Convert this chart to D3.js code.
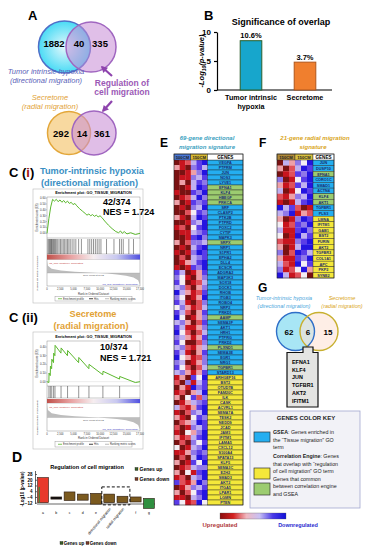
<!DOCTYPE html>
<html><head><meta charset="utf-8">
<script src="https://cdn.jsdelivr.net/npm/d3@7"></script>
<style>body{margin:0;background:#fff}svg{display:block;font-family:"Liberation Sans",Arial,sans-serif}</style>
</head><body><svg id="c" width="375" height="550"></svg>
<script>
// ---------------- DATA ----------------
const vennTopCounts = [1882, 40, 335];
const vennBottomCounts = [292, 14, 361];
const overlapCategories = ["Tumor intrinsic hypoxia", "Secretome"];
const overlapValues = [8.5, 4.8];
const overlapPercents = ["10.6%", "3.7%"];
const overlapTicks = [0, 5, 10];

const esHypoxia = [[0,0],[0.02,0.25],[0.04,0.45],[0.06,0.58],[0.08,0.55],[0.1,0.58],[0.12,0.54],[0.14,0.57],[0.16,0.53],[0.18,0.56],[0.2,0.52],[0.22,0.55],[0.24,0.51],[0.26,0.53],[0.28,0.49],[0.3,0.51],[0.32,0.47],[0.35,0.42],[0.38,0.38],[0.41,0.34],[0.43,0.31],[0.45,0.33],[0.47,0.3],[0.49,0.32],[0.51,0.29],[0.53,0.31],[0.55,0.28],[0.57,0.3],[0.59,0.27],[0.62,0.21],[0.66,0.14],[0.7,0.08],[0.74,0.03],[0.77,0.01],[0.79,0.04],[0.81,0.0],[0.83,0.03],[0.86,-0.01],[0.9,0.01],[0.95,-0.02],[1,0]];
const hitsHypoxia = [0.01,0.02,0.03,0.035,0.045,0.05,0.06,0.07,0.08,0.09,0.1,0.115,0.13,0.145,0.16,0.175,0.19,0.205,0.22,0.235,0.25,0.27,0.29,0.31,0.34,0.37,0.44,0.46,0.48,0.5,0.52,0.54,0.56,0.58,0.64,0.72,0.78,0.8,0.82,0.88,0.93];
const esSecretome = [[0,0],[0.02,-0.01],[0.022,0.1],[0.035,0.07],[0.037,0.18],[0.05,0.15],[0.052,0.26],[0.07,0.22],[0.072,0.33],[0.085,0.3],[0.087,0.42],[0.15,0.33],[0.152,0.39],[0.22,0.3],[0.222,0.36],[0.34,0.22],[0.342,0.28],[0.45,0.15],[0.452,0.2],[0.6,0.08],[0.602,0.12],[0.78,0.03],[0.782,0.06],[0.95,-0.01],[1,0]];
const hitsSecretome = [0.021,0.036,0.051,0.071,0.086,0.151,0.221,0.341,0.451,0.601,0.781];
const rankMetric = [[0,1],[0.01,0.6],[0.05,0.35],[0.15,0.2],[0.3,0.1],[0.45,0.04],[0.55,0],[0.65,-0.05],[0.75,-0.12],[0.85,-0.22],[0.93,-0.38],[0.98,-0.6],[1,-1]];
const rankTickLabels = ["0","2,500","5,000","7,500","10,000","12,500","15,000","17,500"];

const dCategories = ["A","B","C","D","E","directional migration","radial migration","F","G"];
const dLow  = [-12, -7, -9, -8.5, -14, -12, -12, -11, -20];
const dHigh = [23, -4, 3, 0, 1, 0, -3, -4, -6];
const dKind = ["up","none","mix","mix","mix","mix","mix","mix","down"];
const dTicks = [28, 20, 12, 4, -4, -12];

const eSamples = ["500CM-1","500CM-2","500CM-3","150CM-1","150CM-2","150CM-3"];
const eGenes = ["VEGFA","PTPRM","JUN","NOS3","LYVE1","EFNA1","KLF4","HBEGF","PRKCA","SRF","CLASP2","PTK2B","PTPRD","FOXC2","CYTIP","MAPK3","SRPX","NRP1","S1PR1","EPHA2","DLL4","ECSCR","ADGRA2","MAP3K3","SOX18","DOCK1","RHOB","ITGB3","ROBO4","NRP2","PRKD1","AAMP","SEMA3F","AKT1","HRH1","PTPRG","PRKD2","PLXND1","SEMA3E","EGR1","NRG1","TGFBR1","STARD13","ARHGEF16","BST2","OTUD7B","FAM20C","ILK","CASK","ACVRL1","SEMA7A","TESK2","NEDD9","JCAD","JAM3","IFITM1","LAMA5","CXCL12","S100A4","SPATA13","KLF5","SEMA3C","EZH2","SMAD3","AKT2","ITGA5","LPAR1","LGMN","PTEN"];
const eGroups = "bbbbbggggbbbbbbbgbbbbbbbbbbbbbbgbbbbbgbbbgbyyyyyyyyyyyyyyyyyyyyyyyyyy";
const eLevels = ["012578","310675","001368","011657","030576","001587","100768","012586","301767","010658","002476","310587","001658","120478","011567","001786","302665","010578","101687","020567","013578","101768",
"750137","641036","740125","562036","853127","640138","751026","463125","752037","840136","563027","751136","842025","653137","740026","562135","751037","843126","650136","742025","563137",
"130748","206157","031867","120358","304726","013567","521378","102658","310476","023587","201657","104368","312578","020647","401568","113676","020587","301748","012566","304178","120568","721386","013657","302478","110568","741284"];

const fSamples = ["150CM-a1","150CM-a2","150CM-a3","150CM-b1","150CM-b2","150CM-b3"];
const fGenes = ["JUN","DUSP10","EFNA1","CORO1C","SMAD1","ACTN4","KLF4","AKT1","TGFBR1","PLS3","LMNA","IFITM1","GAB1","BST2","FURIN","AKT2","TGFBR3","COL1A1","APC","PKP2","SYNE2"];
const fGroups = "bbgbbbggbbyyyyyyyyyyy";
const fLevels = ["053648","302587","012768","601478","312758","501487","213658","101578","857201","568132","301687","412768","511786","401857","211678","301588","602875","311768","521847","612483","851240"];

const commonGenes = ["EFNA1","KLF4","JUN","TGFBR1","AKT2","IFITM1"];
const gVennCounts = [62, 6, 15];

// ---------------- HELPERS ----------------
const svg = d3.select("#c");
svg.append("rect").attr("width",375).attr("height",550).attr("fill","#fff");
const defs = svg.append("defs");
function txt(g, x, y, s, o={}) {
  const t = g.append("text").attr("x",x).attr("y",y).text(s)
    .attr("font-size", o.size||8).attr("font-weight", o.bold?"bold":"normal")
    .attr("font-style", o.italic?"italic":"normal").attr("fill", o.color||"#000")
    .attr("text-anchor", o.anchor||"start");
  if (o.rotate) t.attr("transform", `rotate(${o.rotate},${x},${y})`);
  return t;
}
function grad(id, stops, vertical) {
  const lg = defs.append("linearGradient").attr("id", id);
  if (vertical) lg.attr("x1",0).attr("y1",0).attr("x2",0).attr("y2",1);
  stops.forEach((c,i)=> lg.append("stop").attr("offset", i/(stops.length-1)).attr("stop-color", c));
}
grad("heatbar", ["#8a0f0f","#d42020","#f0b8c0","#c8c0f4","#4a3ae8","#1010d8"]);
grad("gseabar", ["#c0504a","#e8a0a0","#f6eef0","#c8c8f0","#5050e0"]);
const rg = defs.append("radialGradient").attr("id","cyanfill");
rg.append("stop").attr("offset",0).attr("stop-color","#e4f8fc");
rg.append("stop").attr("offset",1).attr("stop-color","#49dbf5");

// ---------------- PANEL A ----------------
const A = svg.append("g");
txt(A, 28, 20, "A", {size:13, bold:true});
A.append("circle").attr("cx",64.5).attr("cy",47).attr("r",26).attr("fill","url(#cyanfill)").attr("stroke","#4f6fc8").attr("stroke-width",1.5);
A.append("circle").attr("cx",91).attr("cy",47).attr("r",25).attr("fill","#c68ad6").attr("fill-opacity",0.55).attr("stroke","#a066c0").attr("stroke-width",1.5);
[54,79,100].forEach((x,i)=>txt(A,x,47,vennTopCounts[i],{size:9.5,bold:true,anchor:"middle"}));
txt(A, 46, 74, "Tumor intrinsic hypoxia", {size:7.5, italic:true, color:"#5a62b8", anchor:"middle"});
txt(A, 46, 83, "(directional migration)", {size:7.5, italic:true, color:"#5a62b8", anchor:"middle"});
txt(A, 122, 86, "Regulation of", {size:8.5, bold:true, color:"#9b59b6", anchor:"middle"});
txt(A, 122, 95, "cell migration", {size:8.5, bold:true, color:"#9b59b6", anchor:"middle"});
txt(A, 50, 100, "Secretome", {size:7.5, italic:true, color:"#e2a236", anchor:"middle"});
txt(A, 50, 109, "(radial migration)", {size:7.5, italic:true, color:"#e2a236", anchor:"middle"});
function arrow(g, x1,y1,x2,y2,col){
  g.append("line").attr("x1",x1).attr("y1",y1).attr("x2",x2).attr("y2",y2).attr("stroke",col).attr("stroke-width",2.2);
  const ang = Math.atan2(y2-y1,x2-x1), L=5, W=3.5;
  const bx = x2 - L*Math.cos(ang), by = y2 - L*Math.sin(ang);
  const px = -Math.sin(ang)*W, py = Math.cos(ang)*W;
  g.append("path").attr("d",`M${x2+1.5*Math.cos(ang)},${y2+1.5*Math.sin(ang)}L${bx+px},${by+py}L${bx-px},${by-py}Z`).attr("fill",col);
}
arrow(A, 112, 76, 102, 67, "#8e44ad");
arrow(A, 112, 101, 103, 111, "#8e44ad");
A.append("circle").attr("cx",69).attr("cy",133).attr("r",21.5).attr("fill","#f8d9a0").attr("stroke","#e3a73a").attr("stroke-width",1.5);
A.append("circle").attr("cx",94).attr("cy",133).attr("r",22).attr("fill","#c98fd6").attr("fill-opacity",0.58).attr("stroke","#a066c0").attr("stroke-width",1.5);
[61,82,102].forEach((x,i)=>txt(A,x,137,vennBottomCounts[i],{size:9.5,bold:true,anchor:"middle"}));

// ---------------- PANEL B ----------------
const B = svg.append("g");
txt(B, 204, 20, "B", {size:13, bold:true});
txt(B, 281, 25, "Significance of overlap", {size:9, bold:true, anchor:"middle"});
const bY = d3.scaleLinear().domain([0,10]).range([90,32]);
const bX = d3.scaleBand().domain(overlapCategories).range([224,332]).paddingInner(0.6).paddingOuter(0.3);
const bAx = B.append("g").attr("transform","translate(217,0)").call(d3.axisLeft(bY).tickValues(overlapTicks).tickSize(3).tickSizeOuter(0));
bAx.selectAll("text").attr("font-size",8).attr("font-weight","bold").attr("font-family","Liberation Sans, Arial");
bAx.selectAll("path,line").attr("stroke","#000").attr("stroke-width",1.2);
B.append("line").attr("x1",217).attr("x2",332).attr("y1",bY(0)).attr("y2",bY(0)).attr("stroke","#000").attr("stroke-width",1.2);
const bColors = ["#17a6cc","#f07f2e"];
const bStroke = ["#2b5f2b","#b0561a"];
overlapCategories.forEach((c,i)=>{
  B.append("rect").attr("x",bX(c)).attr("width",bX.bandwidth()).attr("y",bY(overlapValues[i])).attr("height",bY(0)-bY(overlapValues[i]))
    .attr("fill",bColors[i]).attr("stroke",bStroke[i]).attr("stroke-width",1);
  txt(B, bX(c)+bX.bandwidth()/2, bY(overlapValues[i])-2.5, overlapPercents[i], {size:7.5, bold:true, anchor:"middle"});
});
txt(B, bX(overlapCategories[0])+bX.bandwidth()/2, 100, "Tumor intrinsic", {size:7.2, bold:true, anchor:"middle"});
txt(B, bX(overlapCategories[0])+bX.bandwidth()/2, 109, "hypoxia", {size:7.2, bold:true, anchor:"middle"});
txt(B, bX(overlapCategories[1])+bX.bandwidth()/2, 100, "Secretome", {size:7.2, bold:true, anchor:"middle"});
const bl = B.append("text").attr("transform","translate(204,61) rotate(-90)").attr("text-anchor","middle")
  .attr("font-size",7.5).attr("font-weight","bold").attr("font-style","italic");
bl.append("tspan").text("-Log");
bl.append("tspan").text("10").attr("font-size",5).attr("dy",2);
bl.append("tspan").text("(p-value)").attr("dy",-2);

// ---------------- PANEL C (GSEA) ----------------
function gsea(L, esPts, esDom, esTicks, hits, ratio) {
  const g = svg.append("g");
  g.append("rect").attr("x",L.x0).attr("y",L.y0).attr("width",L.x1-L.x0).attr("height",L.y1-L.y0).attr("fill","#fff").attr("stroke","#bbb").attr("stroke-width",0.6);
  txt(g, (L.px0+L.px1)/2, L.titleY, "Enrichment plot: GO_TISSUE_MIGRATION", {size:3.8, bold:true, anchor:"middle"});
  const x = d3.scaleLinear().domain([0,1]).range([L.px0,L.px1]);
  const y = d3.scaleLinear().domain(esDom).range([L.es[1],L.es[0]]);
  g.append("rect").attr("x",L.px0).attr("y",L.es[0]).attr("width",L.px1-L.px0).attr("height",L.m[1]-L.es[0]).attr("fill","none").attr("stroke","#777").attr("stroke-width",0.4);
  [L.es[1], L.hit[1], L.cb[1]].forEach(yy=> g.append("line").attr("x1",L.px0).attr("x2",L.px1).attr("y1",yy).attr("y2",yy).attr("stroke","#777").attr("stroke-width",0.4));
  g.append("line").attr("x1",L.px0).attr("x2",L.px1).attr("y1",y(0)).attr("y2",y(0)).attr("stroke","#ccc").attr("stroke-width",0.4);
  esTicks.forEach(t=>{
    g.append("line").attr("x1",L.px0-1.2).attr("x2",L.px0).attr("y1",y(t)).attr("y2",y(t)).attr("stroke","#555").attr("stroke-width",0.3);
    txt(g, L.px0-1.5, y(t)+1, d3.format(".2f")(t), {size:2.8, anchor:"end", color:"#333"});
  });
  txt(g, L.x0+5, (L.es[0]+L.es[1])/2, "Enrichment score (ES)", {size:2.8, anchor:"middle", rotate:-90, color:"#333"});
  g.append("path").datum(esPts).attr("d", d3.line().x(d=>x(d[0])).y(d=>y(d[1]))).attr("fill","none").attr("stroke","#5cb82e").attr("stroke-width",1);
  g.selectAll(null).data(hits).join("line").attr("x1",d=>x(d)).attr("x2",d=>x(d)).attr("y1",L.hit[0]).attr("y2",L.hit[1]).attr("stroke","#111").attr("stroke-width",0.45);
  g.append("rect").attr("x",L.px0).attr("y",L.cb[0]).attr("width",L.px1-L.px0).attr("height",L.cb[1]-L.cb[0]).attr("fill","url(#gseabar)");
  const my = d3.scaleLinear().domain([-1,1]).range([L.m[1]-1,L.m[0]+1]);
  g.append("path").datum(rankMetric).attr("d", d3.area().x(d=>x(d[0])).y0(my(0)).y1(d=>my(d[1]))).attr("fill","#bdbdbd");
  g.append("line").attr("x1",L.px0).attr("x2",L.px1).attr("y1",my(0)).attr("y2",my(0)).attr("stroke","#999").attr("stroke-width",0.3);
  txt(g, L.px0+2, L.m[0]+3.5, "'na_pos' (Positively Correlated)", {size:2.5, color:"#c03030"});
  txt(g, (L.px0+L.px1)/2, my(0)+3, "Zero cross at 8912", {size:2.5, color:"#555", anchor:"middle"});
  txt(g, L.px1-2, L.m[1]-1.5, "'na_neg' (Negatively Correlated)", {size:2.5, color:"#3030c0", anchor:"end"});
  txt(g, L.x0+5, (L.m[0]+L.m[1])/2, "Ranked list metric (PreRanked)", {size:2.5, anchor:"middle", rotate:-90, color:"#333"});
  rankTickLabels.forEach((s,i)=> txt(g, x(i/7), L.tickY, s, {size:2.6, anchor:"middle", color:"#333"}));
  txt(g, (L.px0+L.px1)/2, L.rankY, "Rank in Ordered Dataset", {size:2.8, anchor:"middle", color:"#333"});
  g.append("rect").attr("x",L.px0+8).attr("y",L.leg[0]).attr("width",L.px1-L.px0-16).attr("height",L.leg[1]-L.leg[0]).attr("fill","#fff").attr("stroke","#888").attr("stroke-width",0.4);
  const ly = (L.leg[0]+L.leg[1])/2;
  [["#5cb82e","Enrichment profile",L.px0+11],["#111","Hits",L.px0+42],["#aaa","Ranking metric scores",L.px0+58]].forEach(d=>{
    g.append("line").attr("x1",d[2]).attr("x2",d[2]+4).attr("y1",ly).attr("y2",ly).attr("stroke",d[0]).attr("stroke-width",0.8);
    txt(g, d[2]+5, ly+1, d[1], {size:2.6, color:"#333"});
  });
  txt(g, L.statX, L.statY[0], ratio[0], {size:9, bold:true});
  txt(g, L.statX, L.statY[1], ratio[1], {size:9, bold:true});
}
const C = svg.append("g");
const ci = C.append("text").attr("x",9).attr("y",177).attr("font-size",13).attr("font-weight","bold");
ci.append("tspan").text("C (");
ci.append("tspan").text("i").attr("fill","#a01010");
ci.append("tspan").text(")");
txt(C, 40, 174, "Tumor-intrinsic hypoxia", {size:9.2, bold:true, color:"#3a8fc4"});
txt(C, 41, 185.5, "(directional migration)", {size:9.2, bold:true, color:"#3a8fc4"});
gsea({x0:33,x1:143,y0:189,y1:303,px0:47,px1:140,titleY:194,es:[197,238],hit:[239,254],cb:[254.5,259.5],m:[260,286],tickY:290,rankY:294.5,leg:[296.5,301],statX:103,statY:[205,215]},
  esHypoxia, [-0.08,0.62], [0,0.1,0.2,0.3,0.4,0.5,0.6], hitsHypoxia, ["42/374","NES = 1.724"]);
txt(C, 9, 322, "C (ii)", {size:13, bold:true});
txt(C, 93, 317, "Secretome", {size:9.2, bold:true, color:"#e2a236", anchor:"middle"});
txt(C, 91, 329, "(radial migration)", {size:9.2, bold:true, color:"#e2a236", anchor:"middle"});
gsea({x0:33,x1:143,y0:332,y1:449,px0:47,px1:140,titleY:337.5,es:[341,386],hit:[386,398],cb:[399,403],m:[404,431],tickY:434.5,rankY:439,leg:[441.5,447],statX:100,statY:[350,361]},
  esSecretome, [-0.05,0.47], [0,0.1,0.2,0.3,0.4], hitsSecretome, ["10/374","NES = 1.721"]);

// ---------------- PANEL D ----------------
const D = svg.append("g");
txt(D, 12, 462, "D", {size:14, bold:true});
txt(D, 87, 469, "Regulation of cell migration", {size:5.6, bold:true, anchor:"middle"});
const dY = d3.scaleLinear().domain([-12,28]).range([502.7,474]);
const dX = d3.scaleBand().domain(dCategories).range([37,155]).paddingInner(0.18).paddingOuter(0.05);
const dAx = D.append("g").attr("transform","translate(37,0)").call(d3.axisLeft(dY).tickValues(dTicks).tickSize(1.5).tickSizeOuter(0));
dAx.selectAll("text").attr("font-size",4.5).attr("font-weight","bold").attr("font-family","Liberation Sans, Arial");
dAx.selectAll("path,line").attr("stroke","#000").attr("stroke-width",0.6);
dAx.select("path").attr("d","M-1.5,471V504");
D.append("line").attr("x1",37).attr("x2",155).attr("y1",504).attr("y2",504).attr("stroke","#000").attr("stroke-width",0.6);
D.append("text").attr("transform","translate(24,489) rotate(-90)").attr("text-anchor","middle").attr("font-size",4.5).attr("font-weight","bold").text("-Log10 (p-value)");
const dFill = {up:"#e8392b", none:"#111", mix:"#7b5a1f", down:"#2f8f3f"};
dCategories.forEach((c,i)=>{
  D.append("rect").attr("x",dX(c)).attr("width",dX.bandwidth()).attr("y",dY(dHigh[i])).attr("height",dY(dLow[i])-dY(dHigh[i]))
    .attr("fill",dFill[dKind[i]]).attr("stroke","#2a1a10").attr("stroke-width",0.6);
  if (dKind[i]==="up") D.append("rect").attr("x",dX(c)+1).attr("width",1.2).attr("y",dY(10)).attr("height",dY(dLow[i])-dY(10)).attr("fill","#2f8f3f");
  if (c.length===1) txt(D, dX(c)+dX.bandwidth()/2, 514, c.toLowerCase(), {size:3.5, anchor:"middle"});
  else txt(D, dX(c)+dX.bandwidth()/2+2, 509, c, {size:3.8, anchor:"end", rotate:-50});
});
D.append("rect").attr("x",dX(dCategories[5])-2).attr("y",dY(10)).attr("width",dX(dCategories[6])+dX.bandwidth()+2-(dX(dCategories[5])-2)).attr("height",dY(-15)-dY(10))
  .attr("fill","none").attr("stroke","#111").attr("stroke-width",1).attr("stroke-dasharray","3,2");
[["#3a5f2a","Genes up",471],["#7a3a2a","Genes down",481]].forEach(d=>{
  D.append("rect").attr("x",135).attr("y",d[2]-3.5).attr("width",3).attr("height",3).attr("fill",d[0]).attr("stroke","#000").attr("stroke-width",0.3);
  txt(D, 139.5, d[2], d[1], {size:5, bold:true});
});
[["#3a5f2a","Genes up",60],["#7a3a2a","Genes down",86]].forEach(d=>{
  D.append("rect").attr("x",d[2]).attr("y",541.5).attr("width",3).attr("height",3).attr("fill",d[0]).attr("stroke","#000").attr("stroke-width",0.3);
  txt(D, d[2]+3.8, 545, d[1], {size:4.5, bold:true});
});

// ---------------- HEATMAPS E & F ----------------
const heat = d3.scaleLinear().domain([0,1,2,3,4,5,6,7,8])
  .range(["#7a1212","#c8141e","#e0505a","#eea0a8","#f4eef4","#c0b0f0","#9078e8","#5a3ce8","#2414e0"]);
const groupFill = {b:"#24aef0", g:"#9ccc70", y:"#f4e83a"};
function heatmap(g, samples, genes, groups, levels, x0, x1, gx1, y0, y1, hdr) {
  const x = d3.scaleBand().domain(samples).range([x0,x1]);
  const y = d3.scaleBand().domain(genes).range([y0,y1]);
  const cells = [];
  levels.forEach((row,i)=> row.split("").forEach((v,j)=> cells.push({g:genes[i], s:samples[j], v:+v})));
  g.selectAll(null).data(cells).join("rect").attr("x",d=>x(d.s)).attr("y",d=>y(d.g)).attr("width",x.bandwidth()+0.2).attr("height",y.bandwidth()+0.2).attr("fill",d=>heat(d.v));
  g.selectAll(null).data(genes).join("rect").attr("x",x1).attr("y",d=>y(d)).attr("width",gx1-x1).attr("height",y.bandwidth())
    .attr("fill",(d,i)=>groupFill[groups[i]]).attr("stroke","#222").attr("stroke-width",0.4);
  g.selectAll(null).data(genes).join("text").attr("x",(x1+gx1)/2).attr("y",d=>y(d)+y.bandwidth()*0.78).attr("text-anchor","middle")
    .attr("font-size",3.8).attr("font-weight","bold").attr("fill","#1a2a6e").text(d=>d);
  const hy0 = y0-6;
  g.append("rect").attr("x",x0).attr("y",hy0).attr("width",(x1-x0)/2).attr("height",6).attr("fill",hdr[0][1]).attr("stroke","#222").attr("stroke-width",0.4);
  g.append("rect").attr("x",(x0+x1)/2).attr("y",hy0).attr("width",(x1-x0)/2).attr("height",6).attr("fill",hdr[1][1]).attr("stroke","#222").attr("stroke-width",0.4);
  g.append("rect").attr("x",x1).attr("y",hy0).attr("width",gx1-x1).attr("height",6).attr("fill","#fff").attr("stroke","#222").attr("stroke-width",0.4);
  txt(g, x0+(x1-x0)/4, hy0+4.5, hdr[0][0], {size:4.2, bold:true, anchor:"middle", color:"#222"});
  txt(g, x0+3*(x1-x0)/4, hy0+4.5, hdr[1][0], {size:4.2, bold:true, anchor:"middle", color:"#222"});
  txt(g, (x1+gx1)/2, hy0+4.6, "GENES", {size:4.6, bold:true, anchor:"middle"});
  g.append("rect").attr("x",x0).attr("y",hy0).attr("width",gx1-x0).attr("height",y1-hy0).attr("fill","none").attr("stroke","#222").attr("stroke-width",0.6);
}
const E = svg.append("g");
txt(E, 160, 147, "E", {size:12, bold:true});
txt(E, 207, 140, "69-gene directional", {size:6, bold:true, italic:true, color:"#3a9fc0", anchor:"middle"});
txt(E, 207, 148.5, "migration signature", {size:6, bold:true, italic:true, color:"#3a9fc0", anchor:"middle"});
heatmap(E, eSamples, eGenes, eGroups, eLevels, 174, 207.6, 243, 160, 505, [["500CM","#4a78d8"],["150CM","#d8b830"]]);
const F = svg.append("g");
txt(F, 259, 147, "F", {size:12, bold:true});
txt(F, 315, 140, "21-gene radial migration", {size:6, bold:true, italic:true, color:"#d9a521", anchor:"middle"});
txt(F, 313, 148.5, "signature", {size:6, bold:true, italic:true, color:"#d9a521", anchor:"middle"});
heatmap(F, fSamples, fGenes, fGroups, fLevels, 277, 313, 334, 160, 278, [["150CM","#b08a3a"],["150CM","#d8c040"]]);
// colour bar
E.append("rect").attr("x",220).attr("y",513).attr("width",66).attr("height",6).attr("fill","url(#heatbar)").attr("stroke","#555").attr("stroke-width",0.3);
txt(E, 220, 527, "Upregulated", {size:6, bold:true, color:"#b03a3a", anchor:"middle"});
txt(E, 298, 527, "Downregulated", {size:5.5, bold:true, color:"#2a2ad0", anchor:"middle"});

// ---------------- PANEL G ----------------
const G = svg.append("g");
txt(G, 258, 292, "G", {size:12, bold:true});
txt(G, 284, 300, "Tumor-intrinsic hypoxia", {size:5.5, italic:true, color:"#4aa6dc", anchor:"middle"});
txt(G, 284, 308, "(directional migration)", {size:5.5, italic:true, color:"#4aa6dc", anchor:"middle"});
txt(G, 342, 300, "Secretome", {size:5.5, italic:true, color:"#d9a521", anchor:"middle"});
txt(G, 342, 308, "(radial migration)", {size:5.5, italic:true, color:"#d9a521", anchor:"middle"});
G.append("circle").attr("cx",295.5).attr("cy",331.5).attr("r",19).attr("fill","#a8e6f5");
G.append("circle").attr("cx",319).attr("cy",331.5).attr("r",19).attr("fill","#fde3d5").attr("fill-opacity",0.6);
G.append("circle").attr("cx",295.5).attr("cy",331.5).attr("r",19).attr("fill","none").attr("stroke","#2f6fc8").attr("stroke-width",1.4);
G.append("circle").attr("cx",319).attr("cy",331.5).attr("r",19).attr("fill","none").attr("stroke","#c8b030").attr("stroke-width",1.4);
[289,308,328].forEach((x,i)=> txt(G, x, 335, gVennCounts[i], {size:8, bold:true, anchor:"middle"}));
G.append("path").attr("d","M287,352.5H303V347H313V352.5H318V407H287Z").attr("fill","#e4e4e2").attr("stroke","#111").attr("stroke-width",1.2);
commonGenes.forEach((s,i)=> txt(G, 292, 364+i*7.7, s, {size:5.4, bold:true}));

// colour key
const K = svg.append("g");
K.append("rect").attr("x",250).attr("y",411).attr("width",110).attr("height",97).attr("fill","#f2f2f7").attr("stroke","#a3a8cf").attr("stroke-width",0.8);
txt(K, 306, 420, "GENES COLOR KEY", {size:6, bold:true, color:"#222", anchor:"middle"});
[["#24aef0",432,10],["#f4e83a",468,11],["#9ccc70",483,12]].forEach(d=>
  K.append("rect").attr("x",254).attr("y",d[1]).attr("width",16).attr("height",d[2]).attr("fill",d[0]).attr("stroke","#333").attr("stroke-width",0.7));
const keyLines = [[["GSEA",1],[": Genes enriched in",0]],[["the \u201cTissue migration\u201d GO",0]],[["term",0]],
  [["Correlation Engine",1],[": Genes",0]],[["that overlap with \u201cregulation",0]],[["of cell migration\u201d GO term",0]],
  [["Genes that common",0]],[["between correlation engine",0]],[["and GSEA",0]]];
const keyY = [434,441.5,449,458,465.5,473,480.5,488,495.5];
keyLines.forEach((parts,i)=>{
  const t = K.append("text").attr("x",273).attr("y",keyY[i]).attr("font-size",5.3).attr("fill","#222");
  parts.forEach(p=> t.append("tspan").text(p[0]).attr("font-weight",p[1]?"bold":"normal"));
});
</script></body></html>
